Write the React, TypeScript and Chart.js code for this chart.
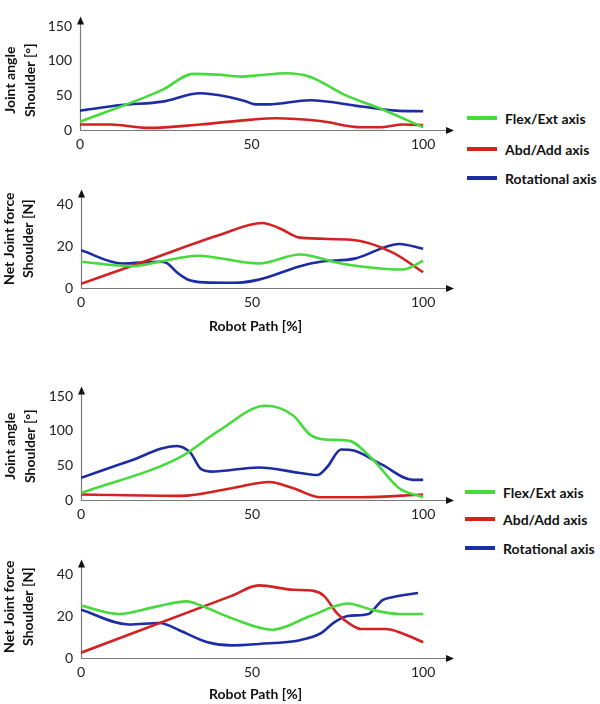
import React, { useEffect, useRef } from "react";
import { Chart, registerables } from "chart.js";

Chart.register(...registerables);

// ---------- tick labels ----------
const xTickValues = [0, 50, 100];
const angleTickValues = [0, 50, 100, 150];
const forceTickValues = [0, 20, 40];

// ---------- texts ----------
const angleTitle = ["Joint angle", "Shoulder [°]"];
const forceTitle = ["Net Joint force", "Shoulder [N]"];
const xTitle = "Robot Path [%]";
const legendLabels = ["Flex/Ext axis", "Abd/Add axis", "Rotational axis"];

// ---------- panel 1 : joint angle (upper case) ----------
const p1FlexX = [0, 24, 33, 40, 47, 52, 60, 67, 77, 88, 100];
const p1FlexY = [12, 58, 81, 80, 77, 79, 82, 77, 51, 30, 4];
const p1AbdX = [0, 9, 20, 35, 50, 57, 70, 82, 88, 94, 100];
const p1AbdY = [8, 8, 3, 8, 15, 17, 13, 4, 4, 8, 7];
const p1RotX = [0, 12, 24, 35, 44, 48, 51, 55, 67, 82, 92, 100];
const p1RotY = [28, 36, 41, 53, 47, 42, 37, 37, 43, 34, 28, 27];

// ---------- panel 2 : joint force (upper case) ----------
const p2FlexX = [0, 15, 23, 34, 52, 64, 76, 94, 100];
const p2FlexY = [12.5, 10.4, 12.5, 15.4, 11.7, 16, 11.7, 8.8, 13];
const p2AbdX = [0, 20, 40, 53, 58, 64, 79, 91, 100];
const p2AbdY = [2, 13.5, 25, 31, 28.5, 24, 23, 17, 7.5];
const p2RotX = [0, 12, 23, 25, 28, 31, 36, 45, 52, 64, 70, 80, 93, 100];
const p2RotY = [18, 11.7, 12.5, 12, 7.5, 4.2, 2.7, 2.5, 4, 10.4, 12.5, 14, 21, 18.7];

// ---------- panel 3 : joint angle (lower case) ----------
const p3FlexX = [0, 29, 40, 54, 62, 67, 72, 78, 85, 93, 100];
const p3FlexY = [10, 62, 99, 136, 122, 94, 87, 86, 60, 17, 4];
const p3AbdX = [0, 29, 44, 55, 62, 70, 82, 100];
const p3AbdY = [8, 6, 17, 26, 17, 4, 4, 8];
const p3RotX = [0, 14, 28, 32, 35, 38, 52, 64, 69, 72, 76, 80, 88, 97, 100];
const p3RotY = [32, 56, 78, 68, 45, 41, 47, 39, 36, 48, 73, 71, 51, 29, 29];

// ---------- panel 4 : joint force (lower case) ----------
const p4FlexX = [0, 11, 22, 31, 35, 44, 56, 67, 78, 85, 93, 100];
const p4FlexY = [25, 21, 24.5, 27, 25, 19, 13.5, 20, 26, 23, 21, 21];
const p4AbdX = [0, 44, 52, 62, 68, 71, 75, 79, 82, 89, 94, 100];
const p4AbdY = [2.5, 29.6, 34.6, 32.5, 32, 29.6, 21, 15.8, 13.8, 13.8, 11.7, 7.5];
const p4RotX = [0, 14, 23, 29, 37, 44, 52, 64, 70, 74, 78, 84, 86, 88, 91, 98.5];
const p4RotY = [23, 16, 16.7, 13, 7.5, 6, 6.7, 8.5, 11.7, 17, 20, 21, 24, 27.5, 29, 31];

const GREEN = "#46da3c";
const RED = "#d42222";
const BLUE = "#1c2ca2";
const FONT = "Lato, 'Open Sans', sans-serif";

const axisArrows = {
  id: "axisArrows",
  beforeDatasetsDraw(chart: any) {
    const { ctx, chartArea } = chart;
    const { left, right, top, bottom } = chartArea;
    const lx = Math.round(left) + 0.5;
    const by = Math.round(bottom) + 0.5;
    ctx.save();
    ctx.strokeStyle = "#7a7a7a";
    ctx.lineWidth = 1.2;
    ctx.beginPath();
    ctx.moveTo(lx, by);
    ctx.lineTo(lx, top + 5);
    ctx.stroke();
    ctx.beginPath();
    ctx.moveTo(left, by);
    ctx.lineTo(right + 18, by);
    ctx.stroke();
    ctx.fillStyle = "#111";
    ctx.beginPath();
    ctx.moveTo(lx, top);
    ctx.lineTo(lx - 3.5, top + 8);
    ctx.lineTo(lx + 3.5, top + 8);
    ctx.closePath();
    ctx.fill();
    ctx.beginPath();
    ctx.moveTo(right + 24, by);
    ctx.lineTo(right + 16, by - 3.5);
    ctx.lineTo(right + 16, by + 3.5);
    ctx.closePath();
    ctx.fill();
    ctx.restore();
  },
};

// rotated two-line y-axis title
const yTitlePlugin = {
  id: "yTitle",
  afterDraw(chart: any, _args: any, opts: any) {
    const { ctx, chartArea } = chart;
    const cy = (chartArea.top + chartArea.bottom) / 2 + (opts.dy || 0);
    ctx.save();
    ctx.font = `bold 14px ${FONT}`;
    ctx.fillStyle = "#111";
    ctx.textAlign = "center";
    ctx.textBaseline = "middle";
    (opts.lines || []).forEach((t: string, i: number) => {
      ctx.save();
      ctx.translate(opts.xs[i], cy);
      ctx.rotate(-Math.PI / 2);
      ctx.fillText(t, 0, 0);
      ctx.restore();
    });
    ctx.restore();
  },
};

type Series = { x: number[]; y: number[]; color: string };

type PanelProps = {
  top: number;
  height: number;
  xAxisHeight: number;
  yAxisWidth: number;
  yMax: number;
  yTicks: number[];
  yTitle: string[];
  titleXs: number[];
  titleDy: number;
  showXTitle: boolean;
  xTitlePad: number;
  series: Series[];
};

function Panel(p: PanelProps) {
  const ref = useRef<HTMLCanvasElement | null>(null);
  useEffect(() => {
    if (!ref.current) return;
    const chart = new Chart(ref.current, {
      type: "line",
      data: {
        datasets: p.series.map((s) => ({
          data: s.x.map((x, i) => ({ x, y: s.y[i] })),
          borderColor: s.color,
          backgroundColor: s.color,
          borderWidth: 2.6,
          pointRadius: 0,
          cubicInterpolationMode: "monotone" as const,
          fill: false,
        })),
      },
      options: {
        animation: false,
        responsive: false,
        maintainAspectRatio: false,
        layout: { padding: { top: 2, right: 30, left: 0, bottom: 0 } },
        plugins: {
          legend: { display: false },
          tooltip: { enabled: false },
          yTitle: { lines: p.yTitle, xs: p.titleXs, dy: p.titleDy },
        },
        scales: {
          x: {
            type: "linear",
            min: 0,
            max: 102,
            grid: { display: false, drawTicks: false },
            border: { display: false },
            afterBuildTicks: (s: any) => {
              s.ticks = xTickValues.map((v) => ({ value: v }));
            },
            afterFit: (s: any) => {
              s.height = p.xAxisHeight;
            },
            ticks: {
              autoSkip: false,
              maxRotation: 0,
              padding: 6,
              color: "#222",
              font: { family: FONT, size: 14 },
            },
            title: {
              display: p.showXTitle,
              text: xTitle,
              color: "#111",
              font: { family: FONT, size: 14, weight: "bold" },
              padding: { top: 0, bottom: p.xTitlePad },
            },
          },
          y: {
            type: "linear",
            min: 0,
            max: p.yMax,
            grid: { display: false, drawTicks: false },
            border: { display: false },
            afterBuildTicks: (s: any) => {
              s.ticks = p.yTicks.map((v) => ({ value: v }));
            },
            afterFit: (s: any) => {
              s.width = p.yAxisWidth;
            },
            ticks: {
              padding: 8,
              color: "#222",
              font: { family: FONT, size: 14 },
            },
            title: { display: false },
          },
        },
      },
      plugins: [axisArrows, yTitlePlugin],
    } as any);
    return () => chart.destroy();
  }, []);
  return (
    <canvas
      ref={ref}
      width={460}
      height={p.height}
      style={{ position: "absolute", left: 0, top: p.top, width: 460, height: p.height }}
    />
  );
}

function Legend({ left, top, gaps }: { left: number; top: number; gaps: number[] }) {
  const colors = [GREEN, RED, BLUE];
  return (
    <>
      {legendLabels.map((label, i) => (
        <div
          key={label}
          style={{
            position: "absolute",
            left,
            top: top + gaps[i] - 10,
            height: 20,
            display: "flex",
            alignItems: "center",
            fontFamily: FONT,
            fontWeight: 700,
            fontSize: 14,
            color: "#111",
            whiteSpace: "nowrap",
          }}
        >
          <div style={{ width: 30, height: 4, background: colors[i], marginRight: 8 }} />
          <span>{label}</span>
        </div>
      ))}
    </>
  );
}

export default function App() {
  return (
    <div
      style={{
        position: "absolute",
        left: 0,
        top: 0,
        width: 600,
        height: 704,
        background: "#fff",
        overflow: "hidden",
      }}
    >
      <Panel
        top={0}
        height={160}
        xAxisHeight={30}
        yAxisWidth={80}
        yMax={164}
        yTicks={angleTickValues}
        yTitle={angleTitle}
        titleXs={[10, 30]}
        titleDy={7}
        showXTitle={false}
        xTitlePad={0}
        series={[
          { x: p1FlexX, y: p1FlexY, color: GREEN },
          { x: p1AbdX, y: p1AbdY, color: RED },
          { x: p1RotX, y: p1RotY, color: BLUE },
        ]}
      />
      <Panel
        top={173}
        height={167}
        xAxisHeight={52}
        yAxisWidth={81}
        yMax={47}
        yTicks={forceTickValues}
        yTitle={forceTitle}
        titleXs={[9, 28]}
        titleDy={0}
        showXTitle={true}
        xTitlePad={5}
        series={[
          { x: p2FlexX, y: p2FlexY, color: GREEN },
          { x: p2AbdX, y: p2AbdY, color: RED },
          { x: p2RotX, y: p2RotY, color: BLUE },
        ]}
      />
      <Panel
        top={370}
        height={160}
        xAxisHeight={30}
        yAxisWidth={81}
        yMax={164}
        yTicks={angleTickValues}
        yTitle={angleTitle}
        titleXs={[10, 30]}
        titleDy={3}
        showXTitle={false}
        xTitlePad={0}
        series={[
          { x: p3FlexX, y: p3FlexY, color: GREEN },
          { x: p3AbdX, y: p3AbdY, color: RED },
          { x: p3RotX, y: p3RotY, color: BLUE },
        ]}
      />
      <Panel
        top={543}
        height={161}
        xAxisHeight={46}
        yAxisWidth={81}
        yMax={47}
        yTicks={forceTickValues}
        yTitle={forceTitle}
        titleXs={[9, 28]}
        titleDy={-2}
        showXTitle={true}
        xTitlePad={1}
        series={[
          { x: p4FlexX, y: p4FlexY, color: GREEN },
          { x: p4AbdX, y: p4AbdY, color: RED },
          { x: p4RotX, y: p4RotY, color: BLUE },
        ]}
      />
      <Legend left={467} top={0} gaps={[118, 149, 178]} />
      <Legend left={465} top={0} gaps={[492, 519, 548]} />
    </div>
  );
}
